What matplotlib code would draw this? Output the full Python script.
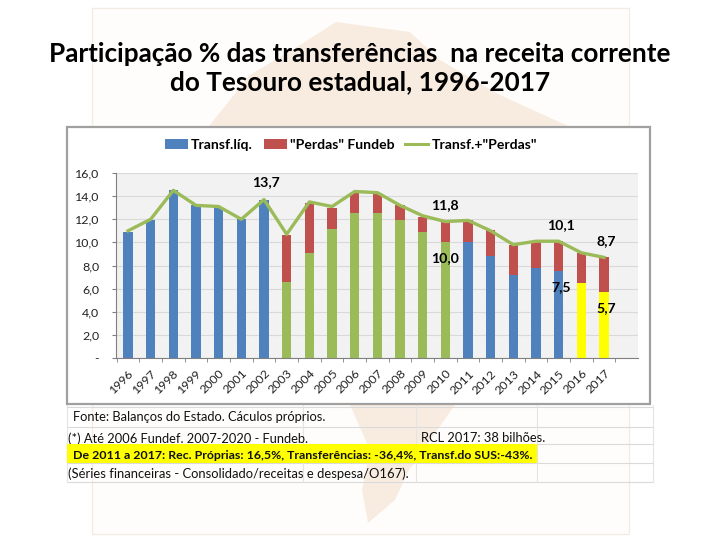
import matplotlib
matplotlib.use("Agg")
import matplotlib.pyplot as plt
from matplotlib.patches import Rectangle, Polygon
from matplotlib.lines import Line2D

years = [str(y) for y in range(1996, 2018)]
liquid = [10.9, 11.9, 14.5, 13.2, 13.1, 12.0, 13.7, 6.6, 9.1, 11.2, 12.5, 12.5,
          11.9, 10.9, 10.0, 10.0, 8.8, 7.2, 7.8, 7.5, 6.5, 5.7]
losses = [0, 0, 0, 0, 0, 0, 0, 4.0, 4.3, 1.8, 1.8, 1.8,
          1.3, 1.3, 1.8, 1.9, 2.3, 2.6, 2.2, 2.6, 2.6, 3.0]
total = [11.0, 12.0, 14.5, 13.2, 13.1, 12.0, 13.7, 10.7, 13.5, 13.1, 14.4, 14.3,
         13.2, 12.3, 11.8, 11.9, 11.0, 9.8, 10.1, 10.1, 9.1, 8.7]
bar_colors = ["#4F81BD"] * 7 + ["#9BBB59"] * 8 + ["#4F81BD"] * 5 + ["#FFFF00"] * 2
yticks = [0, 2, 4, 6, 8, 10, 12, 14, 16]
ytick_labels = ["-", "2,0", "4,0", "6,0", "8,0", "10,0", "12,0", "14,0", "16,0"]
annotations = [("13,7", 6.1, 15.2), ("11,8", 14, 13.2), ("10,0", 14, 8.65), ("10,1", 19.1, 11.5),
               ("8,7", 21.1, 10.1), ("7,5", 19.1, 6.15), ("5,7", 21.1, 4.3)]
title = "Participação % das transferências  na receita corrente\ndo Tesouro estadual, 1996-2017"
notes = ["Fonte: Balanços do Estado. Cáculos próprios.",
         "(*) Até 2006 Fundef. 2007-2020 - Fundeb.",
         "De 2011 a 2017: Rec. Próprias: 16,5%, Transferências: -36,4%, Transf.do SUS:-43%.",
         "(Séries financeiras - Consolidado/receitas e despesa/O167)."]
rcl_note = "RCL 2017: 38 bilhões."

W, H = 720, 540
FONT = ["Lato", "DejaVu Sans"]
plt.rcParams["font.family"] = FONT
fig = plt.figure(figsize=(W / 100, H / 100), dpi=100, facecolor="white")

# page layer in pixel coordinates (origin top-left)
bg = fig.add_axes([0, 0, 1, 1], zorder=0)
bg.set_xlim(0, W); bg.set_ylim(H, 0); bg.axis("off")
bg.add_patch(Rectangle((92, 8), 537, 526, fc="#FFFDFB", ec="#F1ECE6", lw=1))
bg.add_patch(Polygon([(336, 22), (410, 32), (440, 60), (500, 95), (568, 126), (568, 405), (455, 405),
                      (430, 440), (409, 470), (395, 500), (368, 523), (362, 490), (370, 450), (350, 405),
                      (209, 405), (209, 126), (250, 75), (300, 45)],
                     closed=True, fc="#F8ECE1", ec="none"))
bg.text(360, 68, title, ha="center", va="center", fontsize=18.85, fontweight="bold",
        color="black", linespacing=1.24)

# chart panel
bg.add_patch(Rectangle((66.5, 126.5), 583.5, 277, fc="white", ec="#A0A0A0", lw=1.6, zorder=2))

# note table below the chart
for y in (407, 427, 444, 463, 482):
    bg.add_line(Line2D([67, 653], [y, y], color="#DADADA", lw=0.8, zorder=1))
for x in (67, 303, 416, 537, 653):
    bg.add_line(Line2D([x, x], [405, 482], color="#E4E4E4", lw=0.8, zorder=1))
bg.text(73, 417, notes[0], fontsize=9.3, va="center", color="#111111", zorder=3)
bg.text(68, 438.5, notes[1], fontsize=9.3, va="center", color="#111111", zorder=3)
bg.text(421, 438.5, rcl_note, fontsize=9.3, va="center", color="#111111", zorder=3)
bg.add_patch(Rectangle((67, 444), 470, 19, fc="#FFFF00", ec="none", zorder=4))
bg.text(73, 455.5, notes[2], fontsize=8.95, va="center", fontweight="bold", color="#111111", zorder=5)
bg.text(68, 474, notes[3], fontsize=9.35, va="center", color="#111111", zorder=3)

# chart axes
ax = fig.add_axes([116 / W, 1 - 358 / H, (638 - 116) / W, (358 - 173) / H], zorder=3)
ax.set_facecolor("#F2F2F2")
pos = list(range(len(years)))
ax.bar(pos, liquid, width=0.42, color=bar_colors, zorder=2)
ax.bar(pos, losses, bottom=liquid, width=0.42, color="#C0504D", zorder=2)
ax.plot(pos, total, color="#9BBB59", lw=2.4, zorder=3)
ax.set_xlim(-0.53, 22.5)
ax.set_ylim(0, 16)
ax.set_yticks(yticks, ytick_labels)
ax.set_xticks(pos, years, rotation=45, ha="right", va="top", rotation_mode="anchor")
ax.set_xticks([p - 0.5 for p in pos] + [pos[-1] + 0.5], minor=True)
ax.tick_params(axis="y", labelsize=8.9, length=3, color="#808080", pad=9, labelcolor="#222222")
ax.tick_params(axis="x", which="major", labelsize=8.9, length=0, pad=7, labelcolor="#222222")
ax.tick_params(axis="x", which="minor", length=3, color="#808080")
ax.grid(axis="y", color="#D9D9D9", lw=0.8, zorder=1)
ax.set_axisbelow(True)
for s in ("top", "right"):
    ax.spines[s].set_visible(False)
for s in ("left", "bottom"):
    ax.spines[s].set_color("#808080")
    ax.spines[s].set_linewidth(0.8)
for label, x, y in annotations:
    ax.text(x, y, label, ha="center", va="center", fontsize=10.2, fontweight="bold", color="black", zorder=5)

# legend drawn in the panel
handles = [Rectangle((0, 0), 1, 1, fc="#4F81BD"), Rectangle((0, 0), 1, 1, fc="#C0504D"),
           Line2D([0], [0], color="#9BBB59", lw=2.2)]
fig.legend(handles, ["Transf.líq.", '"Perdas" Fundeb', 'Transf.+"Perdas"'], ncol=3, frameon=False,
           loc="center", bbox_to_anchor=(351 / W, 1 - 145 / H), columnspacing=0.75,
           handlelength=1.65, handletextpad=0.25, prop={"weight": "bold", "size": 10.1})

fig.savefig("out.png", dpi=100)
